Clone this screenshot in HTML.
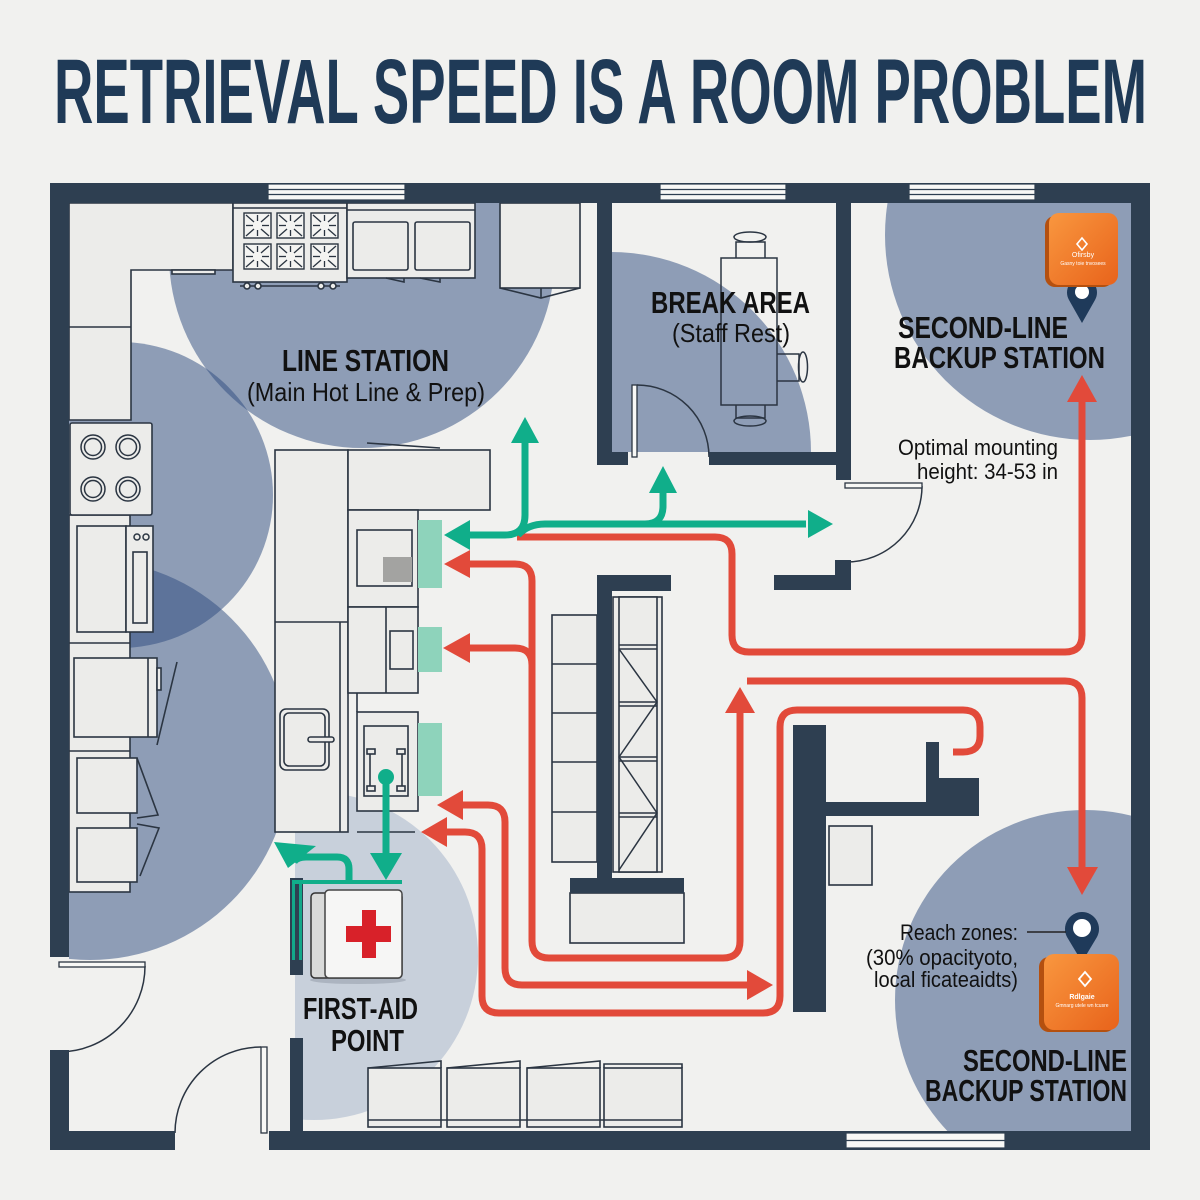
<!DOCTYPE html>
<html><head><meta charset="utf-8"><style>html,body{margin:0;padding:0;background:#f1f1ef}svg{display:block}</style></head>
<body>
<svg width="1200" height="1200" viewBox="0 0 1200 1200" xmlns="http://www.w3.org/2000/svg">
<defs>
  <clipPath id="cInt"><rect x="69" y="203" width="1062" height="928"/></clipPath>
  <clipPath id="cBreak"><rect x="612" y="203" width="224" height="249"/></clipPath>
  <clipPath id="cTR"><rect x="851" y="203" width="280" height="300"/></clipPath>
  <clipPath id="cFA"><rect x="295" y="700" width="300" height="431"/></clipPath>
  <linearGradient id="og" x1="0" y1="0" x2="1" y2="1">
    <stop offset="0" stop-color="#f9973f"/><stop offset="1" stop-color="#e8631b"/>
  </linearGradient>
  <symbol id="burner" viewBox="0 0 29 27" width="29" height="27">
    <rect x="1" y="1" width="27" height="25" fill="#f4f4f2" stroke="#2a3440" stroke-width="1.4"/>
    <g stroke="#2a3440" stroke-width="1.3">
      <line x1="3" y1="3" x2="11" y2="10"/><line x1="26" y1="3" x2="18" y2="10"/>
      <line x1="3" y1="24" x2="11" y2="17"/><line x1="26" y1="24" x2="18" y2="17"/>
      <line x1="14.5" y1="3" x2="14.5" y2="9"/><line x1="14.5" y1="24" x2="14.5" y2="18"/>
      <line x1="3" y1="13.5" x2="10" y2="13.5"/><line x1="26" y1="13.5" x2="19" y2="13.5"/>
    </g>
  </symbol>
</defs>

<rect width="1200" height="1200" fill="#f1f1ef"/>

<!-- Title -->
<text x="54" y="123" font-family="Liberation Sans, Arial, sans-serif" font-weight="bold" font-size="92" textLength="1093" lengthAdjust="spacingAndGlyphs" fill="#1f3a57">RETRIEVAL SPEED IS A ROOM PROBLEM</text>

<!-- Reach circles -->
<g clip-path="url(#cInt)">
  <g fill="#2b4a7d" fill-opacity="0.5">
    <circle cx="362" cy="255" r="193"/>
    <circle cx="120" cy="495" r="153"/>
    <circle cx="90" cy="760" r="200"/>
    <circle cx="1085" cy="1000" r="190"/>
    <circle cx="611" cy="452" r="200" clip-path="url(#cBreak)"/>
    <circle cx="1090" cy="235" r="205" clip-path="url(#cTR)"/>
  </g>
  <circle cx="314" cy="956" r="164" fill="#c8d0db" clip-path="url(#cFA)"/>
</g>

<!-- Equipment -->
<g fill="#ececea" stroke="#2b3542" stroke-width="1.6">
  <path d="M69,203 H233 V270 H131 V420 H69 Z"/>
  <line x1="69" y1="327" x2="131" y2="327"/>
  <rect x="172" y="270" width="43" height="4"/>
  <rect x="233" y="203" width="114" height="79"/>
  <line x1="233" y1="208" x2="347" y2="208"/>
  <line x1="240" y1="286" x2="340" y2="286"/>
  <circle cx="247" cy="286" r="3"/><circle cx="258" cy="286" r="3"/><circle cx="321" cy="286" r="3"/><circle cx="333" cy="286" r="3"/>
  <rect x="347" y="203" width="128" height="75"/>
  <line x1="347" y1="210" x2="475" y2="210"/>
  <rect x="353" y="222" width="55" height="48" rx="2"/>
  <rect x="415" y="222" width="55" height="48" rx="2"/>
  <path d="M386,278 L404,282 L404,278" fill="none"/>
  <path d="M420,278 L440,282 L440,278" fill="none"/>
  <rect x="500" y="203" width="80" height="85"/>
  <polyline points="500,288 541,298 580,288" fill="none"/>
  <line x1="541" y1="288" x2="541" y2="298"/>
  <rect x="69" y="515" width="61" height="377"/>
  <line x1="69" y1="643" x2="130" y2="643"/>
  <line x1="69" y1="751" x2="130" y2="751"/>
  <rect x="70" y="423" width="82" height="92" rx="2"/>
  <rect x="77" y="526" width="49" height="106"/>
  <rect x="126" y="526" width="27" height="106"/>
  <rect x="133" y="552" width="14" height="71"/>
  <rect x="74" y="658" width="83" height="79"/>
  <line x1="148" y1="658" x2="148" y2="737"/>
  <rect x="157" y="668" width="4" height="22"/>
  <line x1="157" y1="745" x2="177" y2="662"/>
  <rect x="77" y="758" width="60" height="55"/>
  <polyline points="137,758 158,815 137,818" fill="none"/>
  <rect x="77" y="828" width="60" height="54"/>
  <polyline points="137,824 159,828 140,876" fill="none"/>
  <rect x="275" y="450" width="73" height="382"/>
  <line x1="275" y1="622" x2="348" y2="622"/>
  <line x1="340" y1="622" x2="340" y2="832"/>
  <rect x="348" y="450" width="142" height="60"/>
  <line x1="367" y1="443" x2="440" y2="448"/>
  <rect x="348" y="510" width="70" height="97"/>
  <rect x="357" y="530" width="55" height="56"/>
  <rect x="383" y="557" width="29" height="25" fill="#a3a3a1" stroke="none"/>
  <rect x="348" y="607" width="70" height="86"/>
  <line x1="386" y1="607" x2="386" y2="693"/>
  <rect x="390" y="631" width="23" height="38"/>
  <line x1="357" y1="693" x2="357" y2="712"/>
  <rect x="280" y="709" width="49" height="61" rx="6"/>
  <rect x="284" y="713" width="41" height="53" rx="5"/>
  <rect x="308" y="737" width="26" height="5" rx="2.5"/>
  <rect x="357" y="712" width="61" height="99"/>
  <rect x="364" y="726" width="44" height="70"/>
  <rect x="367" y="749" width="8" height="5"/><rect x="397" y="749" width="8" height="5"/>
  <rect x="367" y="786" width="8" height="5"/><rect x="397" y="786" width="8" height="5"/>
  <line x1="370" y1="754" x2="370" y2="786"/><line x1="402" y1="754" x2="402" y2="786"/>
  <line x1="357" y1="832" x2="415" y2="832"/>
  <rect x="552" y="615" width="45" height="247"/>
  <line x1="552" y1="664" x2="597" y2="664"/><line x1="552" y1="713" x2="597" y2="713"/>
  <line x1="552" y1="762" x2="597" y2="762"/><line x1="552" y1="812" x2="597" y2="812"/>
  <rect x="613" y="597" width="49" height="275"/>
  <rect x="619" y="597" width="38" height="275"/>
  <rect x="570" y="893" width="114" height="50"/>
  <rect x="829" y="826" width="43" height="59"/>
  <rect x="368" y="1068" width="73" height="59"/>
  <rect x="447" y="1068" width="73" height="59"/>
  <rect x="527" y="1068" width="73" height="59"/>
  <rect x="604" y="1068" width="78" height="59"/>
  <line x1="368" y1="1120" x2="682" y2="1120"/>
  <polyline points="368,1068 441,1061 441,1068" fill="none"/>
  <polyline points="447,1068 520,1061 520,1068" fill="none"/>
  <polyline points="527,1068 600,1061 600,1068" fill="none"/>
  <polyline points="604,1068 604,1064 682,1064 682,1068" fill="none"/>
</g>
<use href="#burner" x="243" y="212"/><use href="#burner" x="276" y="212"/><use href="#burner" x="310" y="212"/>
<use href="#burner" x="243" y="243"/><use href="#burner" x="276" y="243"/><use href="#burner" x="310" y="243"/>
<g fill="none" stroke="#2b3542" stroke-width="1.5">
  <circle cx="93" cy="447" r="12"/><circle cx="93" cy="447" r="8.5"/>
  <circle cx="128" cy="447" r="12"/><circle cx="128" cy="447" r="8.5"/>
  <circle cx="93" cy="489" r="12"/><circle cx="93" cy="489" r="8.5"/>
  <circle cx="128" cy="489" r="12"/><circle cx="128" cy="489" r="8.5"/>
  <circle cx="137" cy="537" r="3"/><circle cx="146" cy="537" r="3"/>
  <line x1="619" y1="645" x2="657" y2="645"/><line x1="619" y1="649" x2="657" y2="649"/>
  <line x1="619" y1="702" x2="657" y2="702"/><line x1="619" y1="706" x2="657" y2="706"/>
  <line x1="619" y1="757" x2="657" y2="757"/><line x1="619" y1="761" x2="657" y2="761"/>
  <line x1="619" y1="813" x2="657" y2="813"/><line x1="619" y1="817" x2="657" y2="817"/>
  <polyline points="619,649 657,702 619,757 657,813 619,870"/>
  <rect x="721" y="258" width="56" height="147"/>
  <path d="M736,258 V242 H765 V258"/><ellipse cx="750" cy="237" rx="16" ry="5"/>
  <path d="M736,405 V418 H765 V405"/><ellipse cx="750" cy="421" rx="16" ry="5"/>
  <path d="M777,354 H799 V381 H777"/><ellipse cx="803" cy="367" rx="4.5" ry="15"/>
  <path d="M637,385 A72,72 0 0 1 709,457"/>
  <path d="M922,486 A76,76 0 0 1 846,562"/>
  <path d="M145,966 A86,86 0 0 1 59,1052"/>
  <path d="M261,1047 A86,86 0 0 0 175,1133"/>
</g>
<g fill="#f8f8f6" stroke="#2b3542" stroke-width="1.3">
  <rect x="632" y="385" width="5" height="72"/>
  <rect x="845" y="483" width="77" height="5"/>
  <rect x="59" y="962" width="86" height="5"/>
  <rect x="261" y="1047" width="6" height="86"/>
</g>

<!-- Walls -->
<g fill="#2e3f51">
  <rect x="50" y="183" width="1100" height="20"/>
  <rect x="50" y="183" width="19" height="774"/>
  <rect x="50" y="1050" width="19" height="100"/>
  <rect x="1131" y="183" width="19" height="967"/>
  <rect x="50" y="1131" width="125" height="19"/>
  <rect x="269" y="1131" width="881" height="19"/>
  <rect x="597" y="203" width="15" height="262"/>
  <rect x="597" y="452" width="31" height="13"/>
  <rect x="709" y="452" width="142" height="13"/>
  <rect x="836" y="203" width="15" height="277"/>
  <rect x="774" y="575" width="77" height="15"/>
  <rect x="835" y="560" width="16" height="30"/>
  <rect x="597" y="575" width="74" height="16"/>
  <rect x="597" y="575" width="15" height="305"/>
  <rect x="570" y="878" width="114" height="15"/>
  <rect x="793" y="725" width="33" height="287"/>
  <rect x="826" y="802" width="153" height="14"/>
  <rect x="926" y="742" width="13" height="60"/>
  <rect x="939" y="778" width="40" height="38"/>
  <rect x="290" y="1038" width="13" height="95"/>
  <rect x="290" y="878" width="13" height="97"/>
</g>
<rect x="292" y="880" width="3" height="80" fill="#12a88a"/>
<rect x="299" y="880" width="3" height="80" fill="#12a88a"/>
<g fill="#f8f8f6" stroke="#2e3f51" stroke-width="1.2">
  <rect x="268" y="184" width="137" height="16"/>
  <rect x="660" y="184" width="126" height="16"/>
  <rect x="909" y="184" width="126" height="16"/>
  <rect x="846" y="1133" width="159" height="15"/>
</g>
<g stroke="#2e3f51" stroke-width="1.2">
  <line x1="268" y1="189.5" x2="405" y2="189.5"/><line x1="268" y1="194.5" x2="405" y2="194.5"/>
  <line x1="660" y1="189.5" x2="786" y2="189.5"/><line x1="660" y1="194.5" x2="786" y2="194.5"/>
  <line x1="909" y1="189.5" x2="1035" y2="189.5"/><line x1="909" y1="194.5" x2="1035" y2="194.5"/>
  <line x1="846" y1="1140.5" x2="1005" y2="1140.5"/>
</g>

<g fill="#8ed3bb">
  <rect x="418" y="520" width="24" height="68"/>
  <rect x="418" y="627" width="24" height="45"/>
  <rect x="418" y="723" width="24" height="73"/>
</g>

<!-- Red routes -->
<g fill="none" stroke="#e24a3a" stroke-width="7" stroke-linejoin="round">
  <path d="M517,537 H715 Q732,537 732,554 V635 Q732,652 749,652 H1065 Q1082,652 1082,635 V400"/>
  <path d="M468,564 H515 Q532,564 532,581 V941 Q532,958 549,958 H723 Q740,958 740,941 V711"/>
  <path d="M468,648 H515 Q532,648 532,665"/>
  <path d="M461,805 H488 Q505,805 505,822 V968 Q505,985 522,985 H749"/>
  <path d="M445,832 H465 Q482,832 482,849 V996 Q482,1013 499,1013 H763 Q780,1013 780,996 V727 Q780,710 797,710 H963 Q980,710 980,727 V736 Q980,752 963,752 H953"/>
  <path d="M747,681 H1065 Q1082,681 1082,698 V869"/>
</g>
<g fill="#e24a3a">
  <polygon points="1082,375 1067,402 1097,402"/>
  <polygon points="444,564 470,550 470,578"/>
  <polygon points="740,687 725,713 755,713"/>
  <polygon points="443,648 470,633 470,663"/>
  <polygon points="437,805 463,790 463,820"/>
  <polygon points="773,985 747,970 747,1000"/>
  <polygon points="421,832 447,817 447,847"/>
  <polygon points="1082,895 1067,867 1098,867"/>
</g>

<!-- Teal routes -->
<g fill="none" stroke="#10ae8a" stroke-width="7" stroke-linejoin="round">
  <path d="M525,441 V515 Q525,535 505,535 H466"/>
  <path d="M806,524 H545 Q528,524 518,535"/>
  <path d="M645,524 Q663,524 663,506 V491"/>
  <path d="M386,777 V855"/>
  <path d="M349,882 V869 Q349,857 337,857 H306 Q297,857 294,862"/>
</g>
<line x1="292" y1="882" x2="402" y2="882" stroke="#10ae8a" stroke-width="4"/>
<g fill="#10ae8a">
  <circle cx="386" cy="777" r="8"/>
  <polygon points="444,535 470,520 470,550"/>
  <polygon points="525,417 511,443 539,443"/>
  <polygon points="833,524 808,510 808,538"/>
  <polygon points="663,466 649,493 677,493"/>
  <polygon points="370,853 402,853 386,880"/>
  <polygon points="274,842 316,846 288,868"/>
</g>

<!-- First-aid box -->
<ellipse cx="358" cy="980" rx="48" ry="4" fill="#9aa2ad" opacity="0.6"/>
<rect x="311" y="893" width="91" height="85" rx="4" fill="#d9dad9" stroke="#333" stroke-width="1.5"/>
<rect x="325" y="890" width="77" height="88" rx="4" fill="#f6f6f5" stroke="#444" stroke-width="1.5"/>
<rect x="362" y="910" width="14" height="48" fill="#d82129"/>
<rect x="346" y="926" width="45" height="16" fill="#d82129"/>

<!-- Pins & kits -->
<path d="M1082,323 L1069,300 A15,15 0 1 1 1095,300 Z" fill="#1f3a5a"/>
<circle cx="1082" cy="292" r="7" fill="#fff"/>
<rect x="1045" y="216" width="68" height="71" rx="10" fill="#b4500f"/>
<rect x="1049" y="213" width="69" height="72" rx="10" fill="url(#og)"/>
<path d="M1082,238 l5,6 l-5,6 l-5,-6 Z" fill="none" stroke="#fff" stroke-width="1.6"/>
<text x="1083" y="257" font-family="Liberation Sans, sans-serif" font-size="7" fill="#fff" text-anchor="middle">Ofirsby</text>
<text x="1083" y="265" font-family="Liberation Sans, sans-serif" font-size="5" fill="#fff" text-anchor="middle">Gasny toie tnvosees</text>

<path d="M1082,962 L1067,937 A17,17 0 1 1 1097,937 Z" fill="#1f3a5a"/>
<circle cx="1082" cy="928" r="9" fill="#fff"/>
<rect x="1039" y="957" width="76" height="75" rx="10" fill="#b4500f"/>
<rect x="1044" y="954" width="75" height="76" rx="10" fill="url(#og)"/>
<path d="M1085,972 l6,7 l-6,7 l-6,-7 Z" fill="none" stroke="#fff" stroke-width="1.8"/>
<text x="1082" y="999" font-family="Liberation Sans, sans-serif" font-size="7" font-weight="bold" fill="#fff" text-anchor="middle">Rdlgaie</text>
<text x="1082" y="1007" font-family="Liberation Sans, sans-serif" font-size="5" fill="#fff" text-anchor="middle">Gmnarg utele wn tcusre</text>
<line x1="1027" y1="932" x2="1066" y2="932" stroke="#222" stroke-width="1.5"/>

<!-- Labels -->
<g font-family="Liberation Sans, Arial, sans-serif" fill="#111">
  <g font-weight="bold" font-size="31">
    <text x="282" y="371" textLength="167" lengthAdjust="spacingAndGlyphs">LINE STATION</text>
    <text x="651" y="313" textLength="159" lengthAdjust="spacingAndGlyphs">BREAK AREA</text>
    <text x="898" y="338" textLength="170" lengthAdjust="spacingAndGlyphs">SECOND-LINE</text>
    <text x="894" y="368" textLength="211" lengthAdjust="spacingAndGlyphs">BACKUP STATION</text>
    <text x="303" y="1019" textLength="115" lengthAdjust="spacingAndGlyphs">FIRST-AID</text>
    <text x="331" y="1051" textLength="73" lengthAdjust="spacingAndGlyphs">POINT</text>
    <text x="963" y="1071" textLength="164" lengthAdjust="spacingAndGlyphs">SECOND-LINE</text>
    <text x="925" y="1101" textLength="202" lengthAdjust="spacingAndGlyphs">BACKUP STATION</text>
  </g>
  <g font-size="26">
    <text x="247" y="401" textLength="238" lengthAdjust="spacingAndGlyphs">(Main Hot Line &amp; Prep)</text>
    <text x="672" y="342" textLength="118" lengthAdjust="spacingAndGlyphs">(Staff Rest)</text>
  </g>
  <g font-size="22">
    <text x="898" y="455" textLength="160" lengthAdjust="spacingAndGlyphs">Optimal mounting</text>
    <text x="917" y="479" textLength="141" lengthAdjust="spacingAndGlyphs">height: 34-53 in</text>
    <text x="900" y="940" textLength="118" lengthAdjust="spacingAndGlyphs">Reach zones:</text>
    <text x="866" y="965" textLength="152" lengthAdjust="spacingAndGlyphs">(30% opacityoto,</text>
    <text x="874" y="987" textLength="144" lengthAdjust="spacingAndGlyphs">local ficateaidts)</text>
  </g>
</g>
</svg>
</body></html>
